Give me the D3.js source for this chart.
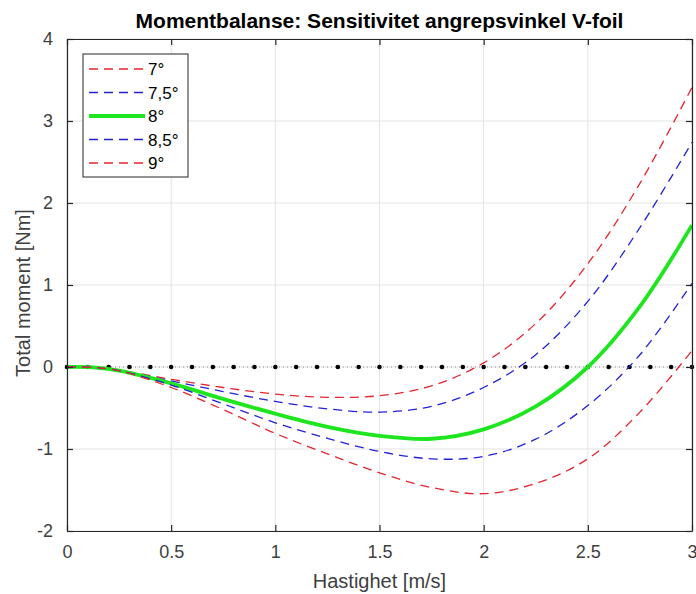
<!DOCTYPE html>
<html>
<head>
<meta charset="utf-8">
<script src="https://cdn.jsdelivr.net/npm/d3@7"></script>
<style>
  html, body { margin: 0; padding: 0; background: #fff; }
  svg { display: block; font-family: "Liberation Sans", Arial, Helvetica, sans-serif; }
</style>
</head>
<body>
<svg id="chart" width="696" height="594"></svg>
<script>
// ---- data ----
const speeds = [0, 0.125, 0.25, 0.5, 0.75, 1, 1.25, 1.5, 1.75, 2, 2.25, 2.5, 2.75, 3];
const moment7   = [0, -0.005, -0.04, -0.15, -0.25, -0.33, -0.37, -0.35, -0.23, 0.05, 0.53, 1.26, 2.24, 3.41];
const moment75  = [0, -0.005, -0.04, -0.17, -0.30, -0.42, -0.51, -0.55, -0.48, -0.25, 0.15, 0.80, 1.70, 2.74];
const moment8   = [0, -0.005, -0.045, -0.2, -0.39, -0.57, -0.73, -0.84, -0.875, -0.76, -0.48, 0, 0.74, 1.73];
const moment85  = [0, -0.005, -0.045, -0.22, -0.45, -0.68, -0.87, -1.03, -1.12, -1.09, -0.88, -0.47, 0.15, 1.02];
const moment9   = [0, -0.005, -0.045, -0.25, -0.52, -0.81, -1.06, -1.29, -1.47, -1.545, -1.42, -1.12, -0.55, 0.2];
const seriesLabels = ["7°", "7,5°", "8°", "8,5°", "9°"];
const zeroLineX = [0, 0.1, 0.2, 0.3, 0.4, 0.5, 0.6, 0.7, 0.8, 0.9, 1, 1.1, 1.2, 1.3, 1.4, 1.5,
                   1.6, 1.7, 1.8, 1.9, 2, 2.1, 2.2, 2.3, 2.4, 2.5, 2.6, 2.7, 2.8, 2.9, 3];
const xTicks = [0, 0.5, 1, 1.5, 2, 2.5, 3];
const xTickLabels = ["0", "0.5", "1", "1.5", "2", "2.5", "3"];
const yTicks = [-2, -1, 0, 1, 2, 3, 4];
const yTickLabels = ["-2", "-1", "0", "1", "2", "3", "4"];
const titleText = "Momentbalanse: Sensitivitet angrepsvinkel V-foil";
const xLabelText = "Hastighet [m/s]";
const yLabelText = "Total moment [Nm]";

// ---- styles ----
const seriesStyles = [
  { color: "#e3262f", width: 1.3, dash: "9,6" },
  { color: "#2222d4", width: 1.3, dash: "9,6" },
  { color: "#1ee61e", width: 3.8, dash: null },
  { color: "#2222d4", width: 1.3, dash: "9,6" },
  { color: "#e3262f", width: 1.3, dash: "9,6" }
];
const seriesValues = [moment7, moment75, moment8, moment85, moment9];

const svg = d3.select("#chart");
const L = 67, R = 692, T = 39, B = 531;
const x = d3.scaleLinear().domain([0, 3]).range([L, R]);
const y = d3.scaleLinear().domain([-2, 4]).range([B, T]);
const axisColor = "#262626";

// grid
const grid = svg.append("g");
grid.selectAll("line.gx").data(xTicks).join("line")
  .attr("x1", d => x(d)).attr("x2", d => x(d)).attr("y1", T).attr("y2", B)
  .attr("stroke", "#e3e3e3").attr("stroke-width", 1);
grid.selectAll("line.gy").data(yTicks).join("line")
  .attr("y1", d => y(d)).attr("y2", d => y(d)).attr("x1", L).attr("x2", R)
  .attr("stroke", "#e3e3e3").attr("stroke-width", 1);

// zero line with markers
const zeroG = svg.append("g");
zeroG.append("path")
  .attr("d", d3.line().x(d => x(d)).y(() => y(0))(zeroLineX))
  .attr("fill", "none").attr("stroke", "#777").attr("stroke-width", 0.8)
  .attr("stroke-dasharray", "1,3");
zeroG.selectAll("circle").data(zeroLineX).join("circle")
  .attr("cx", d => x(d)).attr("cy", y(0)).attr("r", 2.3).attr("fill", "#000");

// series lines
svg.append("clipPath").attr("id", "clip").append("rect")
  .attr("x", L).attr("y", T).attr("width", R - L).attr("height", B - T);
const lineGen = d3.line().x((d, i) => x(speeds[i])).y(d => y(d)).curve(d3.curveCatmullRom.alpha(0.5));
const linesG = svg.append("g").attr("clip-path", "url(#clip)");
seriesValues.forEach((vals, i) => {
  const s = seriesStyles[i];
  linesG.append("path")
    .attr("d", lineGen(vals))
    .attr("fill", "none")
    .attr("stroke", s.color)
    .attr("stroke-width", s.width)
    .attr("stroke-dasharray", s.dash);
});

// axes (MATLAB box with inward ticks)
const tickLen = 6;
const axisBottom = d3.axisBottom(x).tickValues(xTicks).tickFormat((d, i) => xTickLabels[i]).tickSizeInner(-tickLen).tickSizeOuter(0).tickPadding(14);
const axisTop = d3.axisTop(x).tickValues(xTicks).tickFormat("").tickSizeInner(-tickLen).tickSizeOuter(0);
const axisLeft = d3.axisLeft(y).tickValues(yTicks).tickFormat((d, i) => yTickLabels[i]).tickSizeInner(-tickLen).tickSizeOuter(0).tickPadding(14);
const axisRight = d3.axisRight(y).tickValues(yTicks).tickFormat("").tickSizeInner(-tickLen).tickSizeOuter(0);

function styleAxis(g) {
  g.select(".domain").attr("stroke", axisColor).attr("stroke-width", 1.2);
  g.selectAll(".tick line").attr("stroke", axisColor).attr("stroke-width", 1.2);
  g.selectAll(".tick text").attr("fill", "#404040").attr("font-size", 18)
    .attr("font-family", "'Liberation Sans', Arial, sans-serif");
}
svg.append("g").attr("transform", `translate(0,${B})`).call(axisBottom).call(styleAxis);
svg.append("g").attr("transform", `translate(0,${T})`).call(axisTop).call(styleAxis);
svg.append("g").attr("transform", `translate(${L},0)`).call(axisLeft).call(styleAxis);
svg.append("g").attr("transform", `translate(${R},0)`).call(axisRight).call(styleAxis);

// title and labels
svg.append("text").attr("x", (L + R) / 2).attr("y", 28)
  .attr("text-anchor", "middle").attr("font-weight", "bold").attr("font-size", 21)
  .attr("fill", "#000").text(titleText);
svg.append("text").attr("x", (L + R) / 2).attr("y", 588)
  .attr("text-anchor", "middle").attr("font-size", 20).attr("fill", "#404040").text(xLabelText);
svg.append("text").attr("transform", `translate(30,${(T + B) / 2 + 8}) rotate(-90)`)
  .attr("text-anchor", "middle").attr("font-size", 20).attr("fill", "#404040").text(yLabelText);

// legend
const leg = svg.append("g");
const lx = 83, ly = 54, lw = 105, lh = 123;
leg.append("rect").attr("x", lx).attr("y", ly).attr("width", lw).attr("height", lh)
  .attr("fill", "#fff").attr("stroke", axisColor).attr("stroke-width", 1);
seriesLabels.forEach((lab, i) => {
  const s = seriesStyles[i];
  const yy = ly + 15 + i * 23.5;
  leg.append("line").attr("x1", lx + 6).attr("x2", lx + 62).attr("y1", yy).attr("y2", yy)
    .attr("stroke", s.color).attr("stroke-width", s.width).attr("stroke-dasharray", s.dash);
  leg.append("text").attr("x", lx + 65).attr("y", yy + 6).attr("font-size", 17)
    .attr("fill", "#000").text(lab);
});
</script>
</body>
</html>
